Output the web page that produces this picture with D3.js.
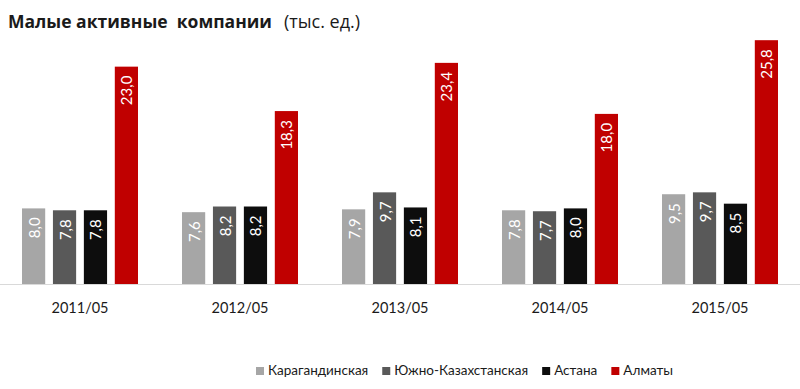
<!DOCTYPE html>
<html>
<head>
<meta charset="utf-8">
<script src="https://cdn.jsdelivr.net/npm/d3@7"></script>
<style>
    body { margin: 0; background: #fff; }
    svg { font-family: Lato, "Open Sans", sans-serif; }
</style>
</head>
<body>
<div id="chart"></div>
<script>
const periods = ['2011/05', '2012/05', '2013/05', '2014/05', '2015/05'];
const regions = ['Карагандинская', 'Южно-Казахстанская', 'Астана', 'Алматы'];
const karaganda = [8.0, 7.6, 7.9, 7.8, 9.5];
const southKaz = [7.8, 8.2, 9.7, 7.7, 9.7];
const astana = [7.8, 8.2, 8.1, 8.0, 8.5];
const almaty = [23.0, 18.3, 23.4, 18.0, 25.8];

const COLORS = ['#a6a6a6', '#595959', '#0d0d0d', '#c00000'];

let seriesValues = [karaganda, southKaz, astana, almaty];
let tableData = [];
periods.forEach((p, i) => {
    regions.forEach((r, j) => {
        tableData.push({ period: p, region: r, value: seriesValues[j][i], idx: j });
    });
});

let width = 800, height = 389;
let baseY = 284;

let svg = d3.select('#chart').append('svg')
    .attr('width', width)
    .attr('height', height);

// title
let title = svg.append('text')
    .attr('x', 8)
    .attr('y', 28)
    .attr('font-family', '"Open Sans", sans-serif')
    .attr('fill', '#1a1a1a');
title.append('tspan').attr('font-weight', 'bold').attr('font-size', 17.5)
    .text('Малые активные\u00a0\u00a0компании');
title.append('tspan').attr('dx', 12).attr('font-size', 18).text('(тыс. ед.)');

let x0 = d3.scaleBand()
    .domain(periods)
    .range([0, width])
    .paddingInner(0.275)
    .paddingOuter(0.1375);

let x1 = d3.scaleBand()
    .domain(regions)
    .range([0, x0.bandwidth()])
    .paddingInner(0.25);

let y = d3.scaleLinear()
    .domain([0, 26])
    .range([baseY, baseY - 26 * 9.45]);

svg.append('g').selectAll('.bar')
    .data(tableData)
    .enter()
    .append('rect')
    .attr('class', 'bar')
    .attr('x', d => x0(d.period) + x1(d.region))
    .attr('y', d => y(d.value))
    .attr('width', x1.bandwidth())
    .attr('height', d => y(0) - y(d.value))
    .attr('fill', d => COLORS[d.idx]);

// value labels, rotated
svg.append('g').selectAll('.val')
    .data(tableData)
    .enter()
    .append('text')
    .attr('class', 'val')
    .attr('transform', d => {
        let cx = x0(d.period) + x1(d.region) + x1.bandwidth() / 2;
        return 'translate(' + cx + ',' + (y(d.value) + 9) + ') rotate(-90)';
    })
    .attr('text-anchor', 'end')
    .attr('dominant-baseline', 'central')
    .attr('font-size', 15)
    .attr('fill', '#fff')
    .text(d => d.value.toFixed(1).replace('.', ','));

// x axis
let xAxis = svg.append('g')
    .attr('transform', 'translate(0,' + baseY + ')')
    .call(d3.axisBottom(x0).tickSize(0).tickPadding(19));
xAxis.select('.domain').attr('stroke', '#d9d9d9').attr('d', 'M0,0.5H' + width);
xAxis.selectAll('text')
    .attr('font-family', 'Lato, sans-serif')
    .attr('font-size', 14.5)
    .attr('fill', '#1a1a1a');

// legend
let legend = svg.append('g').attr('transform', 'translate(0,372)');
let lx = 256;
regions.forEach((r, j) => {
    legend.append('rect')
        .attr('x', lx)
        .attr('y', -5)
        .attr('width', 8)
        .attr('height', 8)
        .attr('fill', COLORS[j]);
    let t = legend.append('text')
        .attr('x', lx + 12)
        .attr('y', 0)
        .attr('dominant-baseline', 'middle')
        .attr('font-size', 13.5)
        .attr('fill', '#1a1a1a')
        .text(r);
    lx += 12 + t.node().getComputedTextLength() + 14;
});
</script>
</body>
</html>
